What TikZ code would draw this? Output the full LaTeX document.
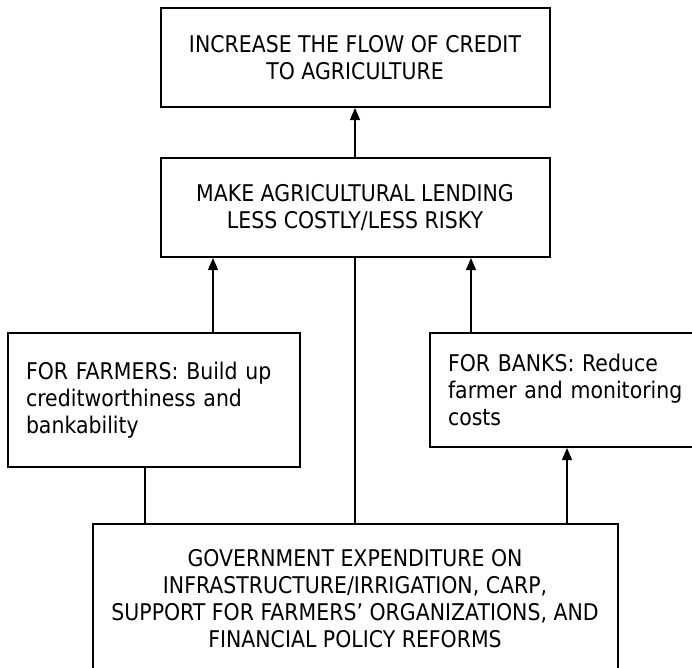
\documentclass[tikz,border=0pt]{standalone}
\usepackage{fontspec}
\setmainfont[FakeStretch=0.89]{DejaVu Sans}
\usetikzlibrary{arrows.meta,positioning}

\begin{document}
\begin{tikzpicture}[%
    x=1pt, y=-1pt,
    >={Triangle[length=12pt,width=10pt]},
    on grid,
    box/.style={draw, line width=2pt, align=center, inner sep=0pt,
        font=\fontsize{23}{27}\selectfont},
    aim/.style={box, minimum width=389pt, minimum height=99pt},
    side/.style={box, align=left, inner xsep=18pt, inner ysep=0pt},
    link/.style={line width=1.2pt}
    ]
    \useasboundingbox (0,0) rectangle (692,667);

    \node[aim] (goal) at (355,57.5) {INCREASE THE FLOW OF CREDIT\\TO AGRICULTURE};
    \node[aim] (lending) [below=150pt of goal] {MAKE AGRICULTURAL LENDING\\LESS COSTLY/LESS RISKY};
    \node[side, text width=256pt, minimum height=134pt] (farmers)
        [below left=192.5pt and 201pt of lending]
        {FOR FARMERS: Build up creditworthiness and bankability};
    \node[side, text width=240pt, minimum height=114pt] (banks)
        [below right=182.5pt and 213pt of lending]
        {FOR BANKS: Reduce\\farmer and monitoring\\costs};
    \node[box, minimum width=525pt, minimum height=150pt] (govt)
        [below=391.5pt of lending]
        {GOVERNMENT EXPENDITURE ON\\INFRASTRUCTURE/IRRIGATION, CARP,\\SUPPORT FOR FARMERS’ ORGANIZATIONS, AND\\FINANCIAL POLICY REFORMS};

    \draw[link,->] (lending) -- (goal);
    \draw[link,->] ([xshift=59pt]farmers.north) -- ([xshift=59pt]farmers.north |- lending.south);
    \draw[link,->] ([xshift=-97pt]banks.north) -- ([xshift=-97pt]banks.north |- lending.south);
    \draw[link] (lending.south |- govt.north) -- (lending.south);
    \draw[link] ([xshift=-9pt]farmers.south) -- ([xshift=-9pt]farmers.south |- govt.north);
    \draw[link,->] ([xshift=-1pt]banks.south |- govt.north) -- ([xshift=-1pt]banks.south);

\end{tikzpicture}
\end{document}
